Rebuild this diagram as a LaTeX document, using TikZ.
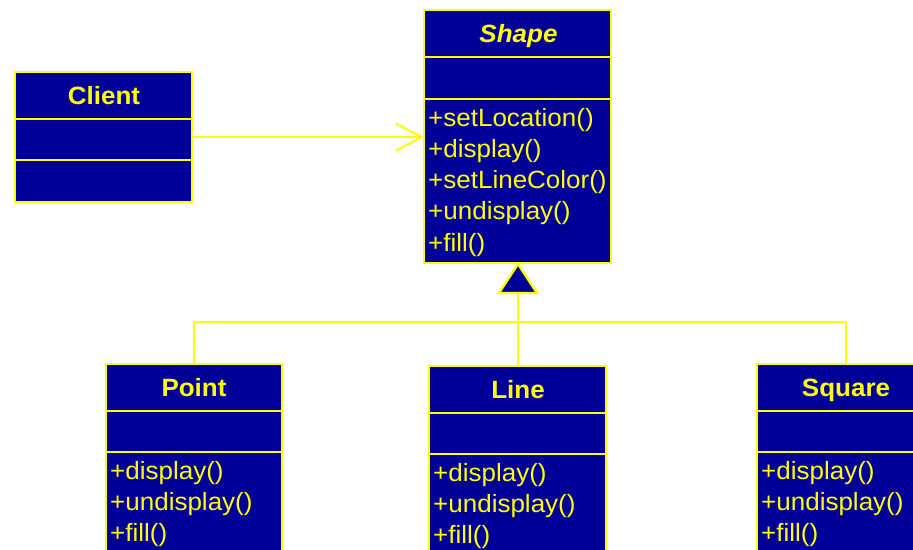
\documentclass[tikz,border=0pt]{standalone}
\usepackage{fontspec}
\setmainfont{Liberation Sans}[FakeStretch=1.04]
\usetikzlibrary{arrows.meta}
\definecolor{umlblue}{RGB}{0,0,153}
\definecolor{umlyellow}{RGB}{255,255,0}
\tikzset{
  comp/.style={draw=umlyellow, fill=umlblue, line width=2.8pt, anchor=north west,
    inner sep=0pt, outer sep=0pt, minimum height=#1},
  ctitle/.style={text=umlyellow, font=\fontsize{25}{30}\selectfont\bfseries, anchor=base, inner sep=0pt},
  cop/.style={text=umlyellow, font=\fontsize{25}{30}\selectfont, anchor=base west, inner sep=0pt},
  conn/.style={draw=umlyellow, line width=1.6pt},
  assoc/.style={draw=umlyellow, line width=2pt, -{Straight Barb[length=26pt,width=27pt,line width=2pt]}},
  inh/.style={draw=umlyellow, fill=umlblue, line width=2.4pt, line join=miter},
}
\begin{document}
\begin{tikzpicture}[x=1pt,y=-1pt]
\useasboundingbox (0,0) rectangle (913,549);
% Shape
\node[comp=47pt, minimum width=187pt] (shT) at (424,10) {};
\node[comp=42pt, minimum width=187pt] (shA) at (424,57) {};
\node[comp=164pt, minimum width=187pt] (shO) at (424,99) {};
\node[ctitle, font=\fontsize{25}{30}\selectfont\bfseries\itshape] (shN) at (518.5,42) {Shape};
\node[cop] (sh1) at (428,126) {+setLocation()};
\node[cop] (sh2) at (428,157.3) {+display()};
\node[cop] (sh3) at (428,188.6) {+setLineColor()};
\node[cop] (sh4) at (428,219.9) {+undisplay()};
\node[cop] (sh5) at (428,251.2) {+fill()};
% Client
\node[comp=47pt, minimum width=177pt] (clT) at (15,72) {};
\node[comp=41pt, minimum width=177pt] (clA) at (15,119) {};
\node[comp=42pt, minimum width=177pt] (clO) at (15,160) {};
\node[ctitle] (clN) at (104,104) {Client};
% Point
\node[comp=47pt, minimum width=176pt] (ptT) at (106,364) {};
\node[comp=41pt, minimum width=176pt] (ptA) at (106,411) {};
\node[comp=160pt, minimum width=176pt] (ptO) at (106,452) {};
\node[ctitle] (ptN) at (194,396) {Point};
\node[cop] (pt1) at (110,479) {+display()};
\node[cop] (pt2) at (110,510.3) {+undisplay()};
\node[cop] (pt3) at (110,541.6) {+fill()};
% Line
\node[comp=47pt, minimum width=177pt] (lnT) at (429,366) {};
\node[comp=41pt, minimum width=177pt] (lnA) at (429,413) {};
\node[comp=160pt, minimum width=177pt] (lnO) at (429,454) {};
\node[ctitle] (lnN) at (518,398) {Line};
\node[cop] (ln1) at (433,481) {+display()};
\node[cop] (ln2) at (433,512.3) {+undisplay()};
\node[cop] (ln3) at (433,543.6) {+fill()};
% Square
\node[comp=47pt, minimum width=178pt] (sqT) at (757,364) {};
\node[comp=41pt, minimum width=178pt] (sqA) at (757,411) {};
\node[comp=160pt, minimum width=178pt] (sqO) at (757,452) {};
\node[ctitle] (sqN) at (846,396) {Square};
\node[cop] (sq1) at (761,479) {+display()};
\node[cop] (sq2) at (761,510.3) {+undisplay()};
\node[cop] (sq3) at (761,541.6) {+fill()};
% association
\coordinate (clEnd) at (192,137);
\draw[assoc] (clEnd) -- (shO.west |- clEnd);
% inheritance
\coordinate (apex) at (518,264);
\coordinate (triB) at (518,293);
\coordinate (bus) at (518,322);
\draw[conn] (triB) -- (lnT.north -| triB);
\draw[conn] (ptT.north) -- (ptT.north |- bus) -- (sqT.north |- bus) -- (sqT.north);
\draw[inh] (apex) -- (499,293) -- (537,293) -- cycle;
\end{tikzpicture}
\end{document}
